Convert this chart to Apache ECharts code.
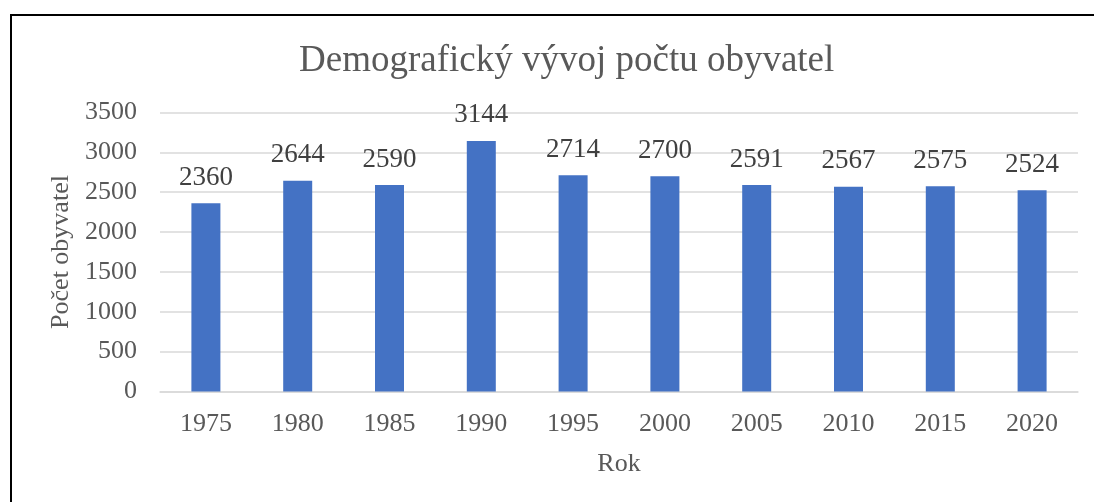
<!DOCTYPE html>
<html>
<head>
<meta charset="utf-8">
<script src="https://cdn.jsdelivr.net/npm/echarts@6/dist/echarts.min.js"></script>
<style>
	html, body { margin: 0; padding: 0; background: #fff; }
	#chart { width: 1094px; height: 502px; }
</style>
</head>
<body>
<div id="chart"></div>
<script>
	// data
	var roky = ['1975', '1980', '1985', '1990', '1995', '2000', '2005', '2010', '2015', '2020'];
	var obyvatele = [2360, 2644, 2590, 3144, 2714, 2700, 2591, 2567, 2575, 2524];

	var font = '"Liberation Serif", "Times New Roman", serif';
	var textColor = '#595959';

	var myChart = echarts.init(document.getElementById('chart'));
	var option = {
		backgroundColor: '#fff',
		animation: false,
		title: {
			text: 'Demografický vývoj počtu obyvatel',
			left: 294,
			top: 38,
			textStyle: {
				fontFamily: font,
				fontWeight: 'normal',
				fontSize: 37,
				color: textColor
			}
		},
		graphic: [{
			// ramecek grafu
			type: 'rect',
			shape: { x: 11, y: 15, width: 1200, height: 600 },
			style: { fill: 'none', stroke: '#000', lineWidth: 2 },
			silent: true
		}],
		grid: {
			left: 160,
			right: 16,
			top: 112.5,
			bottom: 110.5
		},
		xAxis: {
			type: 'category',
			data: roky,
			name: 'Rok',
			nameLocation: 'middle',
			nameGap: 60,
			nameTextStyle: { fontFamily: font, fontSize: 26, color: textColor },
			axisLine: { lineStyle: { color: '#d9d9d9', width: 1.5 } },
			axisTick: { show: false },
			axisLabel: { fontFamily: font, fontSize: 26, color: textColor, margin: 20 }
		},
		yAxis: {
			type: 'value',
			min: 0,
			max: 3500,
			interval: 500,
			name: 'Počet obyvatel',
			nameLocation: 'middle',
			nameGap: 76,
			nameTextStyle: { fontFamily: font, fontSize: 26, color: textColor },
			axisLine: { show: false },
			axisTick: { show: false },
			splitLine: { lineStyle: { color: '#d9d9d9', width: 1.5 } },
			axisLabel: {
				fontFamily: font, fontSize: 26, color: textColor, margin: 23,
				formatter: function (v) { return String(v); }
			}
		},
		series: [{
			name: 'Počet obyvatel',
			type: 'bar',
			data: obyvatele,
			barWidth: 29,
			itemStyle: { color: '#4472C4' },
			label: {
				show: true,
				position: 'top',
				distance: 12,
				fontFamily: font,
				fontSize: 27,
				color: '#404040'
			}
		}]
	};
	myChart.setOption(option);
</script>
</body>
</html>
